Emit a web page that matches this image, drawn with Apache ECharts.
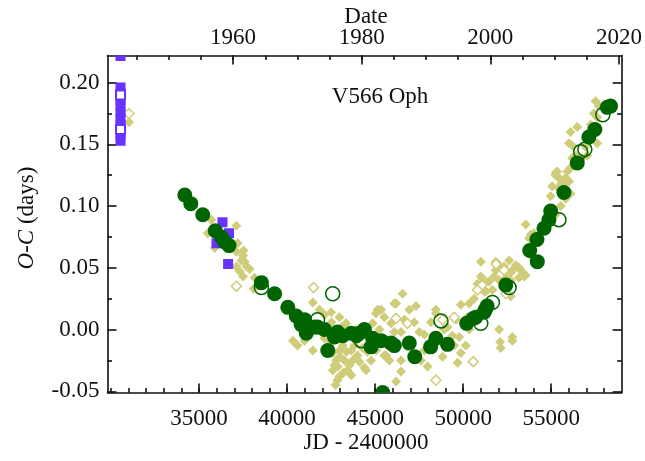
<!DOCTYPE html>
<html><head><meta charset="utf-8">
<script src="https://cdn.jsdelivr.net/npm/echarts@6/dist/echarts.min.js"></script>
<style>html,body{margin:0;padding:0;background:#fff}#c{width:645px;height:461px}</style>
</head><body><div id="c"></div>
<script>
// ---- axis ranges & tick labels ----
const xMin = 29800, xMax = 59000, yMin = -0.051, yMax = 0.222;
const jdTicks = [35000, 40000, 45000, 50000, 55000];
const ocTicks = [-0.05, 0.00, 0.05, 0.10, 0.15, 0.20];
const dateTicks = [1960, 1980, 2000, 2020];
const starName = 'V566 Oph';

// ---- data: [JD-2400000, O-C (days)] ----
const khakiFilled = [
 [31020,0.168],
 [35700,0.089],[37120,0.084],[35490,0.078],[35890,0.066],[36840,0.067],[37120,0.063],[37500,0.060],[37400,0.056],[37590,0.055],
 [37120,0.051],[37310,0.047],[37870,0.049],[37500,0.043],[38160,0.042],[38100,0.033],[37190,0.070],[37530,0.064],[37700,0.051],
 [41460,0.022],[40330,-0.009],[41460,-0.017],[42500,0.014],[42970,0.010],[42590,-0.019],[42790,-0.025],[42880,-0.030],[42970,-0.038],
 [43260,-0.025],[43640,-0.017],[43920,-0.009],[44290,-0.015],[44390,-0.031],[44770,-0.025],[44860,0.005],[45340,0.016],[45520,0.010],
 [46090,0.021],[45900,0.005],[46090,-0.002],[45520,-0.021],[43920,0.000],[43350,0.005],[42880,-0.006],[43160,-0.013],[43730,-0.025],
 [45050,0.013],[42860,-0.041],[43200,-0.035],[42410,-0.013],[42120,-0.007],[43430,-0.033],[43990,-0.021],
 [42410,-0.009],[42690,-0.029],[42970,-0.017],[43090,0.002],[43370,-0.018],[43540,-0.029],[43820,-0.013],[44110,-0.026],
 [43260,-0.007],[42520,0.006],[42120,0.012],[41840,0.016],[41270,0.000],[40990,-0.009],[40590,-0.013],[43650,-0.037],
 [44560,-0.018],[45070,-0.017],[45810,-0.025],[45240,0.000],[42750,-0.045],[43000,-0.022],[42600,-0.033],
 [46560,0.029],[46190,0.021],[47320,0.019],[48170,0.006],[46660,0.008],[46470,-0.002],[47220,0.006],[47510,-0.002],[49110,0.002],
 [49390,-0.005],[49590,0.008],[49870,0.020],[50240,0.010],[50150,-0.013],[49870,-0.019],[49680,-0.027],[48450,0.013],[46470,-0.034],
 [46190,-0.042],[47980,-0.030],[47600,-0.025],[50340,0.021],[50620,0.025],[50810,0.037],[51190,0.031],[51470,0.039],[51850,0.048],
 [52040,0.052],[52320,0.051],[52610,0.056],[52790,0.048],[51760,0.043],[52040,0.000],[52100,-0.010],[52130,-0.015],[52790,-0.009],
 [52320,0.035],[51000,0.043],[45140,0.016],[48450,0.016],[44490,-0.033],[45620,-0.021],[46470,-0.025],[48830,-0.022],[49770,-0.006],
 [47790,-0.004],[48920,0.000],[46940,0.016],[50340,0.000],[49490,-0.013],[47790,-0.017],
 [52790,-0.006],[51000,0.055],[51850,0.055],[52230,0.049],[53170,0.050],[53460,0.043],[52700,0.040],[53550,0.085],[53930,0.075],
 [53640,0.064],[53930,0.059],[53740,0.074],[54020,0.078],[52990,0.052],[53550,0.044],[53270,0.048],[53170,0.042],[52700,0.046],
 [52420,0.042],[52040,0.040],[52230,0.035],[51660,0.032],[51290,0.031],[51290,0.039],[51000,0.033],[52700,0.027],
 [55250,0.127],[55440,0.123],[55720,0.118],[56010,0.120],[55440,0.114],[56190,0.139],[56390,0.141],[57520,0.185],[57710,0.181],
 [57420,0.175],[57610,0.172],[57520,0.164],[57330,0.159],[56100,0.160],[56480,0.164],[56010,0.151],[57610,0.151],[56950,0.148],
 [57040,0.141],[56570,0.139],[56290,0.133],[56100,0.131],[55910,0.128],[55250,0.125],[55820,0.123],[55540,0.118],[55060,0.116],
 [54970,0.108],[56100,0.110],[55820,0.106],[55540,0.100],[55250,0.093],[54870,0.087],[53840,0.077],[57240,0.166],[57240,0.155],
 [56760,0.139],[55340,0.128],[56190,0.149]
];
const khakiOpen = [
 [31020,0.175],[37120,0.035],[41500,0.034],[48450,-0.041],[50570,-0.026],[49490,0.010],[51870,0.053],[51080,0.036],
 [52320,0.048],[52420,0.029],[46830,0.005],[50810,0.032],[48830,0.008],[46190,0.009]
];
const purpleFilled = [
 [30540,0.2215],[30540,0.196],[30540,0.191],[30540,0.186],[30540,0.181],[30540,0.176],[30540,0.171],[30540,0.166],
 [30540,0.157],[30540,0.153],
 [36330,0.087],[36700,0.078],[35990,0.070],[36650,0.053]
];
const purpleOpen = [[30540,0.162],[30540,0.190]];
const greenOpen = [
 [42590,0.029],[38540,0.034],[48740,0.007],[51660,0.022],[51000,0.005],[52610,0.034],[55440,0.089],[56670,0.144],
 [56910,0.146],[57930,0.174],[41730,0.008],[44220,-0.009]
];
const greenFilled = [
 [34190,0.109],[34530,0.102],[35210,0.093],[35920,0.080],[36270,0.075],[36460,0.071],[36700,0.068],[38540,0.038],
 [39290,0.029],[40040,0.018],[40520,0.011],[40990,0.008],[40800,0.004],[41090,-0.003],[41560,0.002],[42120,0.000],
 [42310,-0.017],[42690,-0.006],[43160,-0.005],[43640,-0.003],[44390,0.000],[44860,-0.007],[44770,-0.014],[45340,-0.009],
 [45900,-0.011],[46090,-0.013],[46940,-0.011],[47250,-0.022],[48150,-0.014],[48450,-0.007],[49110,-0.012],[50200,0.005],
 [50570,0.009],[50720,0.010],[51250,0.016],[51190,0.014],[51360,0.019],[52420,0.036],[53780,0.064],[54210,0.055],
 [54190,0.073],[54590,0.082],[54870,0.089],[54970,0.096],[55720,0.111],[56480,0.135],[57140,0.156],[57480,0.162],
 [58180,0.180],[58370,0.181],[41730,0.002],[42860,-0.002],[43940,-0.005],[44110,-0.003],
 [45430,-0.051]
];

// ---- helpers ----
const FONT = '"Liberation Serif","DejaVu Serif",serif';
const INK = '#111';
const KHAKI = '#cfcc7a', PURPLE = '#6633ff', GREEN = '#006400';
const yearToJD = y => 51544.5 + (y - 2000) * 365.25;
const jdToYear = v => Math.round((v - 51544.5) / 365.25 + 2000);
const range = (a, b, s) => { const r = []; for (let v = a; v <= b + 1e-9; v += s) r.push(+v.toFixed(4)); return r; };
const jdMinor = range(30000, 58000, 1000);
const dateMinor = range(1945, 2015, 5).map(yearToJD);
const ocMinor = range(-0.025, 0.175, 0.05);

const line = {color: INK, width: 1.6};
function xAx(pos, ticks, len, labels, fmt, margin) {
  return {type:'value', position: pos, min: xMin, max: xMax,
    axisLine:{show: !!labels, onZero:false, lineStyle: line},
    axisTick:{show:true, inside:true, length: len, customValues: ticks, lineStyle: line},
    axisLabel: labels ? {show:true, customValues: labels, formatter: fmt, fontFamily: FONT, fontSize: 23, color: INK, margin: margin} : {show:false},
    splitLine:{show:false}};
}
function yAx(pos, ticks, len, labels) {
  return {type:'value', position: pos, min: yMin, max: yMax,
    axisLine:{show: len > 5, onZero:false, lineStyle: line},
    axisTick:{show:true, inside:true, length: len, customValues: ticks, lineStyle: line},
    axisLabel: labels ? {show:true, customValues: labels, formatter: v => v.toFixed(2), fontFamily: FONT, fontSize: 23, color: INK, margin: 8} : {show:false},
    splitLine:{show:false}};
}
function clipped(data, kind, color, size) {
  return {type:'custom', clip:true, data, z:3,
    renderItem: (p, api) => {
      const c = api.coord([api.value(0), api.value(1)]);
      if (kind === 'circle') return {type:'circle', shape:{cx:c[0], cy:c[1], r:size/2}, style:{fill:color}};
      return {type:'rect', shape:{x:c[0]-size/2, y:c[1]-size/2, width:size, height:size}, style:{fill:color}};
    }};
}

const chart = echarts.init(document.getElementById('c'), null, {renderer:'canvas'});
chart.setOption({
  animation:false,
  backgroundColor:'#fff',
  grid:{left:107.5, right:22.5, top:55.5, bottom:68.5, containLabel:false},
  xAxis:[
    xAx('bottom', jdTicks, 9, jdTicks, v => String(v), 15),
    xAx('top', dateTicks.map(yearToJD), 9, dateTicks.map(yearToJD), v => String(jdToYear(v)), 6),
    xAx('bottom', jdMinor, 4.5, null),
    xAx('top', dateMinor, 4.5, null)
  ],
  yAxis:[
    yAx('left', ocTicks, 9, ocTicks),
    yAx('right', ocTicks, 9, null),
    yAx('left', ocMinor, 4.5, null),
    yAx('right', ocMinor, 4.5, null)
  ],
  series:[
    {type:'scatter', data: khakiFilled, symbol:'diamond', symbolSize:10, itemStyle:{color:KHAKI, opacity:1}},
    {type:'scatter', data: khakiOpen, symbol:'diamond', symbolSize:10, itemStyle:{color:'#fff', borderColor:KHAKI, borderWidth:1.5, opacity:1}},
    clipped(purpleFilled, 'rect', PURPLE, 10),
    {type:'scatter', data: purpleOpen, symbol:'rect', symbolSize:9, z:3, itemStyle:{color:'#fff', borderColor:PURPLE, borderWidth:2, opacity:1}},
    {type:'scatter', data: greenOpen, symbol:'circle', symbolSize:14, z:3, itemStyle:{color:'rgba(255,255,255,0)', borderColor:GREEN, borderWidth:1.5, opacity:1}},
    clipped(greenFilled, 'circle', GREEN, 15)
  ],
  graphic:[
    {type:'text', x:380, y:97, style:{text: starName, fontFamily: FONT, fontSize:23, fill: INK, align:'center', verticalAlign:'middle'}},
    {type:'text', x:366, y:17, style:{text:'Date', fontFamily: FONT, fontSize:23, fill: INK, align:'center', verticalAlign:'middle'}},
    {type:'text', x:366, y:443, style:{text:'JD - 2400000', fontFamily: FONT, fontSize:23, fill: INK, align:'center', verticalAlign:'middle'}},
    {type:'text', x:27, y:218, rotation: Math.PI/2,
      style:{text:'{i|O-C} (days)', fontFamily: FONT, fontSize:23, fill: INK, align:'center', verticalAlign:'middle',
        rich:{i:{fontStyle:'italic', fontFamily: FONT, fontSize:23, fill: INK}}}}
  ]
});
</script></body></html>
